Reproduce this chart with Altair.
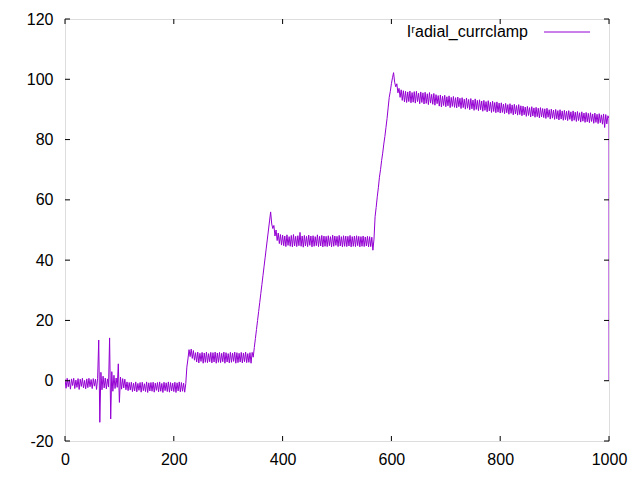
import altair as alt
import pandas as pd

# sample grid (step of 2 units) plus final drop at 1000
times = list(range(0, 1000, 2)) + [1000, 1000]

values = [
    # 0-38
    0.5, -2.5, 0.8, -2.0, 0.3, -2.8, 0.6, -1.6, 0.8, -2.6, 0.2, -2.2, 0.7, -2.9, 0.5, -1.9, 0.8, -2.4, 0.1, -2.7,
    # 40-78
    0.6, -2.3, 0.8, -2.0, 0.4, -2.6, 0.7, -1.8, 0.5, -2.9, 0.8, 13.5, -13.8, 2.8, -3.0, 1.5, -2.4, 0.9, -2.7, 0.6,
    # 80-118
    -2.1, 14.2, -12.7, 3.0, -3.5, 1.8, -2.6, 0.9, -2.2, 5.6, -7.2, 1.2, -2.8, 0.7, -2.4, 0.5, -3.0, -0.4, -3.3, -0.6,
    # 120-158
    -3.1, -0.5, -3.6, -0.8, -3.4, -0.4, -3.7, -0.9, -3.2, -0.6, -3.8, -0.5, -3.3, -1.0, -3.6, -0.4, -3.9, -0.7, -3.4, -0.6,
    # 160-198
    -3.5, -0.5, -3.8, -0.8, -3.2, -0.6, -3.7, -0.4, -3.5, -0.9, -3.9, -0.5, -3.3, -0.7, -3.6, -0.4, -3.8, -0.6, -3.4, -0.8,
    # 200-238
    -3.6, -0.5, -3.9, -0.7, -3.4, -0.4, -3.7, -0.6, -3.5, -0.8, -3.8, -1.0, 4.5, 7.2, 10.3, 8.0, 10.5, 7.4, 10.0, 6.8,
    # 240-278
    9.3, 6.2, 9.5, 5.9, 9.1, 6.4, 9.4, 5.8, 9.2, 6.1, 9.5, 6.0, 9.0, 6.3, 9.4, 5.9, 9.3, 6.2, 9.5, 5.8,
    # 280-318
    9.2, 6.1, 9.4, 6.0, 9.1, 6.3, 9.5, 5.8, 9.3, 6.2, 9.0, 5.9, 9.4, 6.1, 9.2, 6.4, 9.5, 5.8, 9.3, 6.0,
    # 320-358
    9.1, 6.2, 9.4, 5.9, 9.2, 6.3, 9.5, 6.0, 9.0, 6.1, 9.3, 5.8, 9.4, 7.8, 11.0, 14.0, 17.0, 20.0, 23.0, 26.0,
    # 360-398
    29.0, 32.0, 35.0, 38.0, 41.0, 44.0, 47.0, 50.0, 53.0, 56.0, 52.0, 50.5, 51.5, 48.0, 50.0, 46.5, 49.0, 45.5, 48.5, 45.0,
    # 400-438
    48.3, 44.8, 48.0, 44.5, 48.4, 44.9, 47.8, 44.6, 48.2, 44.4, 48.5, 44.7, 47.9, 44.5, 48.1, 44.8, 49.2, 44.6, 48.0, 44.3,
    # 440-478
    48.2, 44.7, 47.9, 44.5, 48.3, 44.9, 48.0, 44.4, 48.1, 44.6, 47.8, 44.8, 48.4, 44.5, 47.9, 44.7, 48.2, 44.4, 48.0, 44.6,
    # 480-518
    47.9, 44.5, 48.1, 44.8, 47.8, 44.4, 48.3, 44.6, 48.0, 44.9, 47.9, 44.5, 48.2, 44.7, 47.8, 44.4, 48.1, 44.6, 48.0, 44.5,
    # 520-558
    47.9, 44.7, 48.2, 44.4, 47.8, 44.6, 48.0, 44.5, 48.1, 44.8, 47.9, 44.4, 47.8, 44.6, 48.0, 44.5, 47.7, 44.7, 47.9, 44.4,
    # 560-598
    47.8, 44.5, 47.6, 43.3, 47.0, 54.4, 57.5, 61.0, 64.0, 67.5, 70.0, 73.0, 75.5, 78.5, 81.0, 84.0, 87.0, 90.5, 94.0, 96.0,
    # 600-638
    98.5, 100.5, 102.2, 99.0, 97.5, 98.5, 95.5, 97.0, 94.0, 96.5, 93.0, 96.2, 92.5, 96.0, 92.3, 95.8, 92.6, 96.1, 92.2, 95.6,
    # 640-678
    92.4, 95.9, 92.1, 96.0, 92.6, 95.4, 91.9, 95.8, 92.3, 95.5, 91.8, 95.7, 92.0, 95.2, 91.6, 95.6, 92.1, 95.0, 91.7, 95.3,
    # 680-718
    91.4, 94.9, 91.9, 94.6, 91.1, 94.8, 90.8, 94.4, 91.3, 94.7, 90.9, 94.2, 91.2, 94.5, 90.6, 94.0, 91.0, 94.3, 90.7, 93.9,
    # 720-758
    90.5, 94.1, 90.9, 93.7, 90.3, 93.9, 90.6, 93.4, 90.1, 93.8, 90.4, 93.3, 89.9, 93.6, 90.2, 93.1, 89.7, 93.5, 90.0, 93.0,
    # 760-798
    89.6, 93.2, 89.9, 92.8, 89.4, 93.0, 89.7, 92.6, 89.2, 92.9, 89.5, 92.4, 89.0, 92.7, 89.3, 92.3, 88.9, 92.5, 89.1, 92.1,
    # 800-838
    88.8, 92.2, 89.0, 91.8, 88.6, 92.0, 88.9, 91.6, 88.4, 91.9, 88.7, 91.5, 88.2, 91.7, 88.5, 91.3, 88.1, 91.6, 88.3, 91.2,
    # 840-878
    87.9, 91.1, 88.2, 90.8, 87.7, 91.0, 88.0, 90.6, 87.5, 90.9, 87.8, 90.5, 87.4, 90.7, 87.6, 90.4, 87.2, 90.6, 87.5, 90.3,
    # 880-918
    87.3, 90.2, 87.0, 90.4, 87.4, 89.9, 86.8, 90.1, 87.1, 89.8, 86.7, 90.0, 86.9, 89.6, 86.5, 89.9, 86.8, 89.5, 86.4, 89.7,
    # 920-958
    86.6, 89.4, 86.3, 89.6, 86.7, 89.2, 86.1, 89.5, 86.4, 89.1, 86.0, 89.3, 86.3, 88.9, 85.8, 89.2, 86.1, 88.8, 85.7, 89.0,
    # 960-998
    85.9, 88.7, 85.6, 88.9, 86.0, 88.5, 85.4, 88.8, 85.7, 88.4, 85.3, 88.6, 85.6, 88.2, 85.1, 88.5, 84.0, 88.3, 85.2, 87.9,
    # final drop at 1000
    87.0, 0.0,
]

x_ticks = [0, 200, 400, 600, 800, 1000]
y_ticks = [-20, 0, 20, 40, 60, 80, 100, 120]
legend_label = ["I\u02b3adial_currclamp"]

assert len(times) == len(values), (len(times), len(values))

W, H = 544, 422
FONT = "Liberation Sans"
FS = 16
COLOR = "#9400D3"

df = pd.DataFrame({"t": times, "v": values, "i": list(range(len(times)))})
xt = pd.DataFrame({"t": x_ticks})
yt = pd.DataFrame({"v": y_ticks})
lg = pd.DataFrame({"label": legend_label})

xs = alt.Scale(domain=[0, 1000], nice=False, zero=False)
ys = alt.Scale(domain=[-20, 120], nice=False, zero=False)

LBL = "'' + datum.value"

line = alt.Chart(df).mark_line(color=COLOR, strokeWidth=1, clip=True).encode(
    x=alt.X("t:Q", scale=xs,
            axis=alt.Axis(values=x_ticks, title=None, ticks=False, domain=False, grid=False,
                          labelExpr=LBL, labelPadding=10, labelFontSize=FS, labelFont=FONT,
                          labelColor="black", labelFlush=False, labelOverlap=False)),
    y=alt.Y("v:Q", scale=ys,
            axis=alt.Axis(values=y_ticks, title=None, ticks=False, domain=False, grid=False,
                          labelExpr=LBL, labelPadding=12, labelFontSize=FS, labelFont=FONT,
                          labelColor="black", labelFlush=False, labelOverlap=False)),
    order="i:Q",
)

TL = 5
xb = alt.Chart(xt).mark_rule(color="black", strokeWidth=1).encode(
    x=alt.X("t:Q", scale=xs), y=alt.value(H), y2=alt.value(H - TL))
xtop = alt.Chart(xt).mark_rule(color="black", strokeWidth=1).encode(
    x=alt.X("t:Q", scale=xs), y=alt.value(0), y2=alt.value(TL))
yl = alt.Chart(yt).mark_rule(color="black", strokeWidth=1).encode(
    y=alt.Y("v:Q", scale=ys), x=alt.value(0), x2=alt.value(TL))
yr = alt.Chart(yt).mark_rule(color="black", strokeWidth=1).encode(
    y=alt.Y("v:Q", scale=ys), x=alt.value(W), x2=alt.value(W - TL))

leg_text = alt.Chart(lg).mark_text(
    align="right", baseline="middle", fontSize=FS, font=FONT, fontWeight="normal", fill="black"
).encode(x=alt.value(463), y=alt.value(13), text="label:N")
leg_line = alt.Chart(lg).mark_rule(color=COLOR, strokeWidth=1).encode(
    x=alt.value(479), x2=alt.value(525), y=alt.value(13))

chart = alt.layer(line, xb, xtop, yl, yr, leg_text, leg_line).properties(
    width=W, height=H,
    autosize=alt.AutoSizeParams(type="none"),
    padding={"left": 57, "top": 11, "right": 23, "bottom": 31},
).configure_view(stroke="black", strokeWidth=1).configure(background="white")

chart.save("out.html", embed_options={"renderer": "svg", "actions": False})
